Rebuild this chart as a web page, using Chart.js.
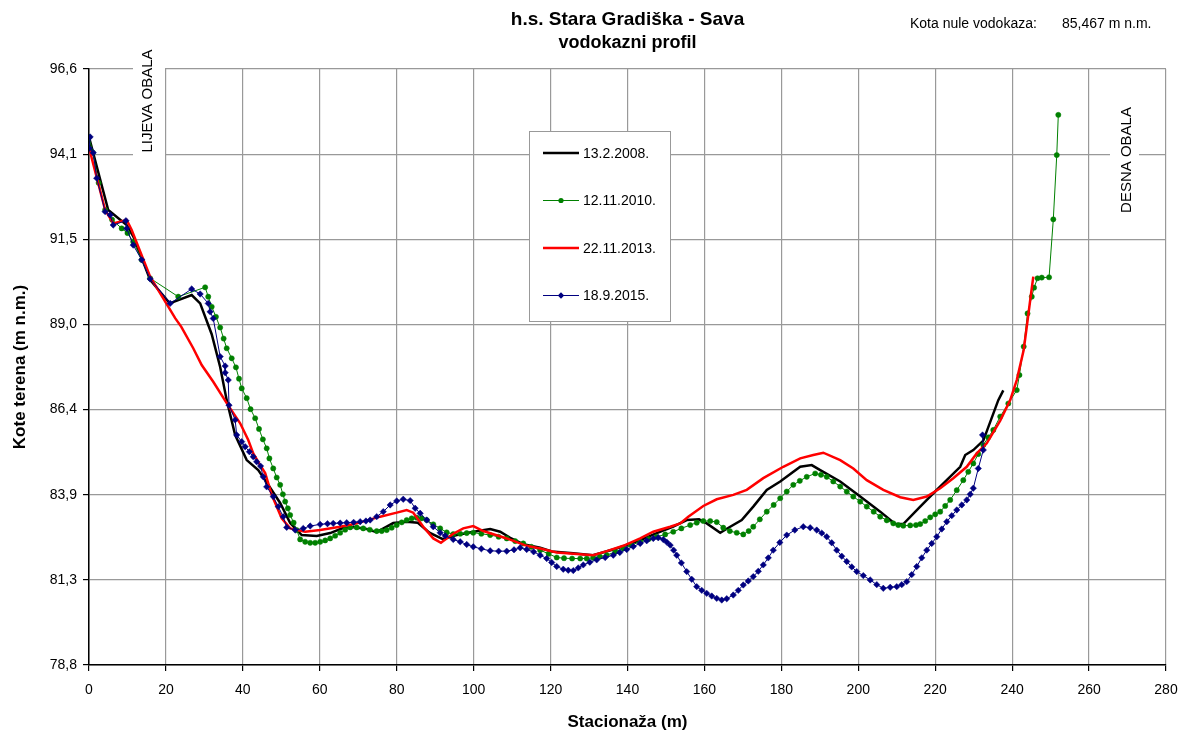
<!DOCTYPE html>
<html>
<head>
<meta charset="utf-8">
<title>h.s. Stara Gradiška - Sava</title>
<script src="https://cdn.jsdelivr.net/npm/chart.js"></script>
<style>
  html, body { margin: 0; padding: 0; background: #fff; }
</style>
</head>
<body>
<canvas id="chart" width="1182" height="735"></canvas>
<script>
// --- data (stacionaža in m, kota in m n.m.) ---

// 13.2.2008.
const x2008 = [0, 5, 9.8, 11.5, 15.9, 21, 26.7, 28.9, 31.9, 34.1, 35.8, 38, 41, 44, 46.5, 49.7, 52.3, 55.3, 59.2, 62.7,
  66, 68.7, 72.2, 74.8, 79.1, 82.6, 85.5, 88.5, 92, 95.6, 100, 104.3, 106.9, 109.5, 112.9, 117.3, 120.3, 125.9, 131, 137.2,
  143.3, 147.6, 151.9, 155.4, 158.6, 160.6, 164.1, 166.7, 169.7, 172.7, 176.2, 179.7, 184.9, 187.9, 190.1, 195.3, 200.5, 205.7, 209.6, 211.7,
  216.1, 220.4, 226.5, 227.8, 229.9, 232.5, 236.4, 237.7];
const y2008 = [94.57, 92.39, 91.94, 91.6, 90.3, 89.6, 89.85, 89.6, 88.68, 87.7, 86.71, 85.67, 84.92, 84.62, 84.2, 83.64, 83.04, 82.68, 82.65, 82.74,
  82.89, 82.92, 82.86, 82.77, 83.04, 83.08, 83.05, 82.75, 82.56, 82.68, 82.78, 82.86, 82.78, 82.6, 82.41, 82.3, 82.19, 82.14, 82.08, 82.28,
  82.53, 82.74, 82.93, 83.13, 83.15, 83.03, 82.75, 82.93, 83.13, 83.53, 84.03, 84.28, 84.72, 84.77, 84.62, 84.28, 83.83, 83.38, 83.01, 83.01,
  83.53, 84.03, 84.72, 85.07, 85.22, 85.5, 86.71, 87.0];

// 12.11.2010.
const x2010 = [0, 1, 2.5, 4.2, 6, 8.5, 10, 11.5, 13.7, 15.9, 23.2, 30.2, 31, 31.9, 33, 34.1, 35, 35.8, 37.1, 38.2,
  39, 39.7, 41, 42, 43.2, 44.2, 45.2, 46.2, 46.9, 47.9, 48.8, 49.7, 50.4, 51, 51.7, 52.3, 53.2, 54, 54.9, 56.2,
  57.5, 58.8, 60.1, 61.4, 62.7, 64, 65.3, 66.6, 67.9, 69.6, 71.3, 73, 74.8, 76.1, 77.4, 78.7, 80, 81.3, 82.6, 83.9,
  85.2, 86.5, 87.8, 89.5, 91.3, 93, 94.7, 96.5, 98.2, 99.9, 102, 104.3, 106.5, 108.6, 110.8, 112.9, 115, 117.3, 119.5, 121.6,
  123.5, 125.6, 127.7, 129.4, 131.1, 132.8, 134.6, 136.8, 138.9, 141, 143.3, 145.5, 147.6, 149.8, 151.9, 154, 156.3, 158, 159.7, 161.5,
  163.2, 164.9, 166.6, 168.4, 170.1, 171.5, 172.7, 174.4, 176.2, 178, 179.7, 181.4, 183.1, 184.8, 186.6, 188.8, 190.3, 191.8, 193.5, 195.3,
  197, 198.7, 200.5, 202.2, 204, 205.7, 207.4, 209.1, 210.4, 211.7, 213.5, 215, 216.1, 217.4, 218.7, 220, 221.3, 222.6, 223.9, 225.6,
  227.3, 228.6, 229.9, 231.2, 232.5, 233.8, 235.1, 236.9, 239, 241.2, 241.9, 243, 244, 245.1, 245.7, 246.6, 247.7, 249.6, 250.7, 251.6,
  252];
const y2010 = [94.57, 94.1, 93.2, 92.39, 92.1, 91.84, 91.7, 91.44, 90.9, 90.35, 89.8, 90.08, 89.8, 89.5, 89.2, 88.88, 88.55, 88.26, 87.96, 87.69,
  87.35, 87.06, 86.77, 86.44, 86.17, 85.85, 85.54, 85.27, 84.97, 84.67, 84.4, 84.18, 83.9, 83.68, 83.48, 83.28, 83.05, 82.83, 82.55, 82.48,
  82.45, 82.45, 82.48, 82.52, 82.58, 82.66, 82.75, 82.84, 82.91, 82.91, 82.88, 82.84, 82.8, 82.8, 82.83, 82.9, 82.98, 83.06, 83.13, 83.18,
  83.2, 83.18, 83.13, 83.0, 82.88, 82.76, 82.71, 82.72, 82.74, 82.75, 82.72, 82.68, 82.63, 82.58, 82.5, 82.43, 82.33, 82.23, 82.12, 82.01,
  81.99, 81.98, 81.98, 81.98, 82.0, 82.04, 82.08, 82.18, 82.28, 82.38, 82.48, 82.56, 82.63, 82.7, 82.78, 82.88, 82.98, 83.05, 83.1, 83.1,
  83.07, 82.9, 82.8, 82.75, 82.7, 82.8, 82.93, 83.15, 83.38, 83.58, 83.78, 83.98, 84.18, 84.3, 84.42, 84.52, 84.48, 84.42, 84.28, 84.13,
  83.98, 83.83, 83.68, 83.53, 83.38, 83.23, 83.12, 83.03, 82.98, 82.96, 82.97, 82.98, 83.01, 83.1, 83.21, 83.3, 83.38, 83.55, 83.73, 84.02,
  84.32, 84.57, 84.82, 85.1, 85.37, 85.6, 85.82, 86.22, 86.61, 87.01, 87.46, 88.31, 89.3, 89.8, 90.07, 90.35, 90.37, 90.38, 92.11, 94.03,
  95.23];

// 22.11.2013.
const x2013 = [0, 0.7, 4.2, 6.3, 9.8, 11.1, 15.9, 20.6, 22.4, 24, 27.1, 29.3, 32.3, 35.8, 39.3, 41.4, 42.7, 44.5, 45.8, 47.5,
  50.1, 52.3, 56.2, 60.1, 65.3, 69.6, 75.7, 80, 82.6, 84.3, 86.9, 89.5, 91.5, 92.1, 94.7, 97.3, 99.9, 102.5, 108.6, 113.8,
  117.3, 121.6, 127.7, 131.1, 134.6, 138.9, 143.3, 146.7, 151.1, 153.7, 155.8, 159.7, 163.2, 167.5, 171, 175.3, 180.5, 184.9, 188.3, 190.9,
  195.3, 198.7, 202.2, 206.5, 210.9, 214.3, 217.8, 221.3, 224.7, 228.2, 230.8, 233.4, 236.9, 239.5, 241.2, 243, 243.8, 244.7, 245.5];
const y2013 = [94.28, 93.94, 92.39, 91.99, 92.09, 91.79, 90.4, 89.5, 89.16, 88.9, 88.26, 87.76, 87.26, 86.62, 86.02, 85.52, 85.12, 84.77, 84.53, 83.88,
  83.18, 82.88, 82.78, 82.83, 82.93, 83.03, 83.23, 83.35, 83.43, 83.35, 82.93, 82.58, 82.45, 82.5, 82.72, 82.88, 82.95, 82.8, 82.58, 82.36,
  82.28, 82.16, 82.11, 82.08, 82.2, 82.36, 82.58, 82.78, 82.93, 83.03, 83.23, 83.55, 83.75, 83.88, 84.03, 84.38, 84.72, 84.97, 85.07, 85.14,
  84.92, 84.67, 84.32, 84.03, 83.81, 83.73, 83.83, 84.08, 84.38, 84.72, 85.12, 85.42, 86.1, 86.71, 87.31, 88.21, 88.9, 89.7, 90.4];

// 18.9.2015.
const x2015 = [0.3, 0.1, 1.1, 2, 4.2, 5.5, 6.3, 9.6, 9.8, 11.5, 13.7, 15.9, 21.1, 26.7, 28.9, 31, 31.5, 32.3, 34.1, 35.4,
  35.4, 36.2, 36.4, 38, 38.4, 39.7, 40.6, 41.7, 42.7, 43.6, 44.6, 45.3, 46.2, 47.9, 49.2, 50.5, 51.4, 53.6, 55.7, 57.5,
  60.1, 62, 63.5, 65.3, 67, 68.8, 70.5, 72, 73.1, 74.8, 76.5, 78.3, 80, 81.7, 83.5, 84.8, 86.1, 87.8, 89.5, 91.3,
  92.6, 94.7, 96.5, 98.2, 99.9, 102, 104.3, 106.5, 108.6, 110.5, 112.1, 113.8, 115.6, 117.3, 119, 120.3, 121.6, 123.3, 124.6, 125.9,
  127.2, 128.5, 130.2, 132, 134.2, 136.3, 138, 139.8, 141.5, 143.3, 145, 146.7, 148, 149.3, 150.2, 151.1, 152, 152.8, 154, 155.4,
  156.7, 158, 159.3, 160.6, 161.9, 163.2, 164.5, 165.8, 167.5, 168.8, 170.1, 171.4, 172.7, 174, 175.3, 176.6, 177.9, 179.6, 181.4, 183.5,
  185.7, 187.5, 189.2, 190.5, 191.8, 193.1, 194.4, 195.7, 197, 198.3, 199.6, 201.3, 203.1, 204.8, 206.5, 208.3, 210, 211.3, 212.6, 213.9,
  215.2, 216.5, 217.8, 219.1, 220.4, 221.7, 223, 224.3, 225.6, 226.9, 228.2, 229.1, 229.9, 231.2, 232.5, 232.3];
const y2015 = [94.57, 94.23, 94.1, 93.34, 92.34, 92.24, 91.94, 92.07, 91.84, 91.34, 90.9, 90.33, 89.6, 90.03, 89.88, 89.6, 89.35, 89.15, 88.01, 87.73,
  87.53, 87.31, 86.56, 86.12, 85.67, 85.47, 85.32, 85.17, 85.02, 84.87, 84.74, 84.42, 84.12, 83.83, 83.53, 83.23, 82.91, 82.83, 82.88, 82.95,
  83.0, 83.02, 83.03, 83.04, 83.05, 83.06, 83.08, 83.1, 83.13, 83.23, 83.38, 83.58, 83.7, 83.75, 83.71, 83.48, 83.33, 83.13, 82.93, 82.75,
  82.66, 82.55, 82.48, 82.4, 82.33, 82.27, 82.21, 82.2, 82.2, 82.24, 82.3, 82.25, 82.18, 82.08, 81.98, 81.86, 81.74, 81.66, 81.63, 81.62,
  81.7, 81.79, 81.87, 81.94, 82.01, 82.08, 82.16, 82.25, 82.34, 82.43, 82.51, 82.58, 82.6, 82.55, 82.47, 82.38, 82.23, 82.08, 81.85, 81.59,
  81.36, 81.14, 81.03, 80.94, 80.86, 80.79, 80.74, 80.78, 80.89, 81.03, 81.19, 81.31, 81.44, 81.6, 81.79, 82.0, 82.23, 82.46, 82.68, 82.83,
  82.93, 82.9, 82.83, 82.74, 82.63, 82.45, 82.23, 82.05, 81.89, 81.73, 81.59, 81.47, 81.34, 81.2, 81.09, 81.12, 81.14, 81.2, 81.29, 81.5,
  81.74, 82.0, 82.23, 82.43, 82.63, 82.86, 83.08, 83.26, 83.43, 83.58, 83.73, 83.9, 84.08, 84.67, 85.22, 85.67];

const seriesNames = ['13.2.2008.', '12.11.2010.', '22.11.2013.', '18.9.2015.'];
const xTicks = [0, 20, 40, 60, 80, 100, 120, 140, 160, 180, 200, 220, 240, 260, 280];
const yTickLabels = ['78,8', '81,3', '83,9', '86,4', '89,0', '91,5', '94,1', '96,6'];
const yMin = 78.8, yMax = 96.6;

const FONT = '"Liberation Sans", Arial, sans-serif';

function pts(xs, ys) {
  return xs.map((x, i) => ({ x: x, y: ys[i] }));
}

// titles, notes, bank labels, legend box, axis titles
const decor = {
  id: 'decor',
  afterDraw(chart) {
    const ctx = chart.ctx;
    const a = chart.chartArea;
    const cx = (a.left + a.right) / 2;
    ctx.save();
    ctx.fillStyle = '#000';
    ctx.textAlign = 'center';
    ctx.textBaseline = 'middle';
    ctx.font = 'bold 19px ' + FONT;
    ctx.fillText('h.s. Stara Gradiška - Sava', cx, 20);
    ctx.font = 'bold 18px ' + FONT;
    ctx.fillText('vodokazni profil', cx, 43);

    ctx.font = '14px ' + FONT;
    ctx.textAlign = 'left';
    ctx.fillText('Kota nule vodokaza:', 910, 24);
    ctx.fillText('85,467 m n.m.', 1062, 24);

    // bank labels with white backing over the grid
    ctx.fillStyle = '#fff';
    ctx.fillRect(133, 44, 32, 114);
    ctx.fillRect(1110, 100, 29, 120);
    ctx.fillStyle = '#000';
    ctx.font = '15px ' + FONT;
    ctx.textAlign = 'center';
    ctx.save();
    ctx.translate(148, 101);
    ctx.rotate(-Math.PI / 2);
    ctx.fillText('LIJEVA OBALA', 0, 0);
    ctx.restore();
    ctx.save();
    ctx.translate(1127, 160);
    ctx.rotate(-Math.PI / 2);
    ctx.fillText('DESNA OBALA', 0, 0);
    ctx.restore();

    // axis titles
    ctx.font = 'bold 17px ' + FONT;
    ctx.fillText('Stacionaža (m)', cx, 722);
    ctx.save();
    ctx.translate(20, 367);
    ctx.rotate(-Math.PI / 2);
    ctx.fillText('Kote terena (m n.m.)', 0, 0);
    ctx.restore();

    // legend
    ctx.fillStyle = '#fff';
    ctx.fillRect(529, 131, 142, 191);
    ctx.strokeStyle = '#999';
    ctx.lineWidth = 1;
    ctx.strokeRect(529.5, 131.5, 141, 190);
    ctx.font = '14px ' + FONT;
    ctx.textAlign = 'left';
    chart.data.datasets.forEach((ds, i) => {
      const y = 153 + i * 47.5;
      ctx.strokeStyle = ds.borderColor;
      ctx.lineWidth = ds.borderWidth;
      ctx.beginPath();
      ctx.moveTo(543, y);
      ctx.lineTo(579, y);
      ctx.stroke();
      if (ds.pointRadius > 0) {
        ctx.fillStyle = ds.borderColor;
        ctx.beginPath();
        if (ds.pointStyle === 'rectRot') {
          const r = ds.pointRadius;
          ctx.moveTo(561, y - r); ctx.lineTo(561 + r, y); ctx.lineTo(561, y + r); ctx.lineTo(561 - r, y);
          ctx.closePath();
        } else {
          ctx.arc(561, y, ds.pointRadius, 0, Math.PI * 2);
        }
        ctx.fill();
      }
      ctx.fillStyle = '#000';
      ctx.fillText(ds.label, 583, y + 1);
    });
    ctx.restore();
  }
};

new Chart(document.getElementById('chart'), {
  type: 'scatter',
  data: {
    datasets: [
      {
        label: seriesNames[0], data: pts(x2008, y2008), showLine: true,
        borderColor: '#000000', borderWidth: 2.5, pointRadius: 0, order: 3
      },
      {
        label: seriesNames[1], data: pts(x2010, y2010), showLine: true,
        borderColor: '#008000', backgroundColor: '#008000', borderWidth: 1,
        pointStyle: 'circle', pointRadius: 2.6, pointBorderWidth: 0.5, order: 2
      },
      {
        label: seriesNames[2], data: pts(x2013, y2013), showLine: true,
        borderColor: '#ff0000', borderWidth: 2.5, pointRadius: 0, order: 1
      },
      {
        label: seriesNames[3], data: pts(x2015, y2015), showLine: true,
        borderColor: '#000080', backgroundColor: '#000080', borderWidth: 1,
        pointStyle: 'rectRot', pointRadius: 3.2, pointBorderWidth: 0.5, order: 0
      }
    ]
  },
  options: {
    responsive: false,
    animation: false,
    devicePixelRatio: 1,
    layout: { padding: { top: 69, right: 16, left: 0, bottom: 0 } },
    plugins: {
      legend: { display: false },
      tooltip: { enabled: false },
      title: { display: false }
    },
    scales: {
      x: {
        type: 'linear',
        min: xTicks[0],
        max: xTicks[xTicks.length - 1],
        afterBuildTicks: (scale) => { scale.ticks = xTicks.map(v => ({ value: v })); },
        afterFit: (scale) => {
          scale.height = 70;
          scale.paddingLeft = 0;
          scale.paddingRight = 0;
        },
        grid: { color: '#999', lineWidth: 1.2, tickColor: '#000', tickLength: 6 },
        border: { color: '#000', width: 1.5 },
        ticks: { color: '#000', font: { family: FONT, size: 14 }, padding: 11, maxRotation: 0 }
      },
      y: {
        type: 'linear',
        min: yMin,
        max: yMax,
        afterBuildTicks: (scale) => {
          const n = yTickLabels.length - 1;
          scale.ticks = yTickLabels.map((_, i) => ({ value: yMin + i * (yMax - yMin) / n }));
        },
        afterFit: (scale) => {
          scale.width = 89;
          scale.paddingTop = 0;
          scale.paddingBottom = 0;
        },
        grid: { color: '#999', lineWidth: 1.2, tickColor: '#000', tickLength: 6 },
        border: { color: '#000', width: 1.5 },
        ticks: {
          color: '#000', font: { family: FONT, size: 14 }, padding: 6,
          callback: (v, i) => yTickLabels[i]
        }
      }
    }
  },
  plugins: [decor]
});
</script>
</body>
</html>
